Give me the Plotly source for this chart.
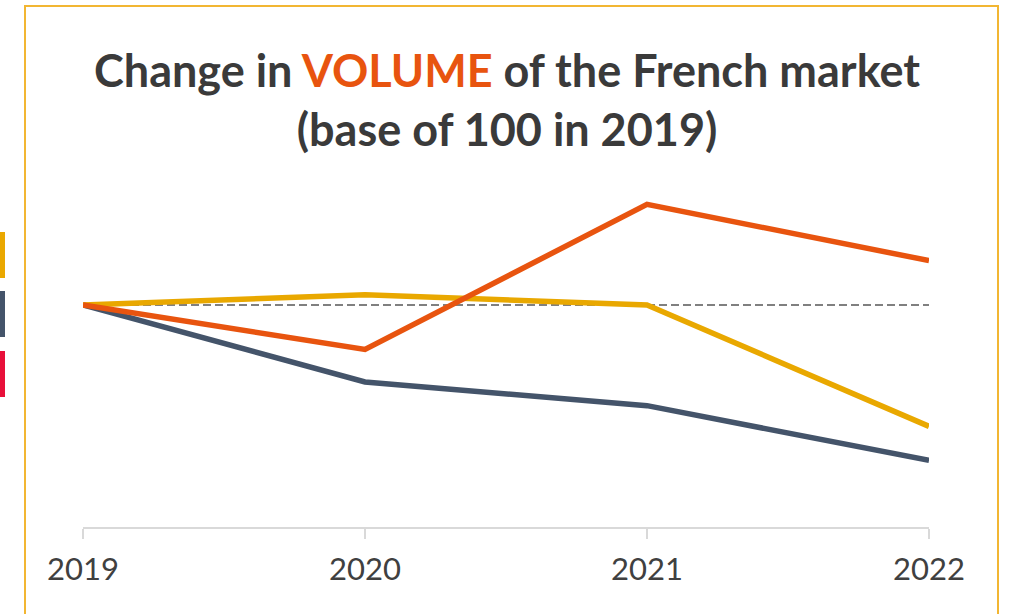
import plotly.graph_objects as go

years = [2019, 2020, 2021, 2022]
tick_labels = ["2019", "2020", "2021", "2022"]
series_yellow = [100.0, 100.7, 100.0, 91.8]
series_slate = [100.0, 94.8, 93.2, 89.5]
series_orange = [100.0, 97.0, 106.8, 103.0]
base = [100, 100, 100, 100]

W, H = 1012, 614
L, R, T, B = 83, 83, 157, 87
pw, ph = W - L - R, H - T - B

def px(x):
    return (x - L) / pw

def py(y):
    return (H - B - y) / ph

fig = go.Figure()
fig.add_trace(go.Scatter(x=years, y=base, mode="lines",
                         line=dict(color="#808080", width=2, dash="8px,4px"), hoverinfo="skip"))
fig.add_trace(go.Scatter(x=years, y=series_slate, mode="lines",
                         line=dict(color="#44546A", width=5.5)))
fig.add_trace(go.Scatter(x=years, y=series_yellow, mode="lines",
                         line=dict(color="#E9A800", width=5.5)))
fig.add_trace(go.Scatter(x=years, y=series_orange, mode="lines",
                         line=dict(color="#E8540F", width=5.5)))

shapes = [
    dict(type="rect", xref="paper", yref="paper", x0=px(25), x1=px(998), y0=py(640), y1=py(6),
         line=dict(color="#F2B632", width=2), fillcolor="rgba(0,0,0,0)", layer="below"),
    dict(type="rect", xref="paper", yref="paper", x0=px(-2), x1=px(5), y0=py(278), y1=py(232),
         line=dict(width=0), fillcolor="#EAA800"),
    dict(type="rect", xref="paper", yref="paper", x0=px(-2), x1=px(5), y0=py(337), y1=py(291),
         line=dict(width=0), fillcolor="#44546A"),
    dict(type="rect", xref="paper", yref="paper", x0=px(-2), x1=px(5), y0=py(397), y1=py(351),
         line=dict(width=0), fillcolor="#E8103A"),
]

fig.add_annotation(
    xref="paper", yref="paper", x=px(507), y=py(99), xanchor="center", yanchor="middle",
    text="<b>Change in <span style='color:#E8540F'>VOLUME</span> of the French market<br>(base of 100 in 2019)</b>",
    showarrow=False, font=dict(family="Lato", size=45, color="#3A3A3A"), align="center")

fig.update_layout(
    width=W, height=H, margin=dict(l=L, r=R, t=T, b=B),
    paper_bgcolor="white", plot_bgcolor="white", showlegend=False,
    shapes=shapes,
    xaxis=dict(range=[2019, 2022], tickvals=years, ticktext=tick_labels, showgrid=False,
               zeroline=False, showline=True, linecolor="#D9D9D9", linewidth=2,
               ticks="outside", ticklen=10, tickcolor="#D9D9D9", tickwidth=2,
               ticklabelstandoff=4,
               tickfont=dict(family="Lato", size=31, color="#404040")),
    yaxis=dict(range=[85, 110], visible=False),
)
fig.write_html("out.html", config={"displayModeBar": False},
               post_script="document.body.style.margin='0';document.body.style.overflow='hidden';")
